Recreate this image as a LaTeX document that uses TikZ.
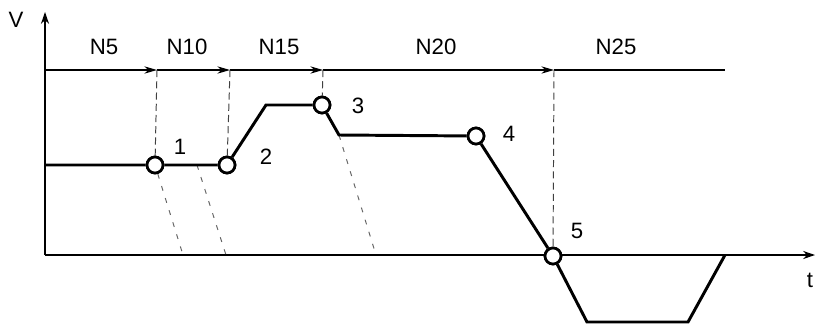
\documentclass[tikz,border=0pt]{standalone}
\usepackage{fontspec}
\setmainfont{Liberation Sans}
\usetikzlibrary{arrows.meta}

\begin{document}
\begin{tikzpicture}[x=0.025cm,y=-0.025cm,every node/.style={font=\fontsize{15.8}{18}\selectfont}]
\tikzset{
  profile/.style={line width=2.1pt,line join=miter},
  stop/.style={circle,draw,fill=white,line width=1.9pt,minimum size=0.4cm,inner sep=0pt},
  guide/.style={draw=black!75,dash pattern=on 5pt off 3pt,line width=0.7pt},
  slant/.style={draw=black!60,dash pattern=on 3.5pt off 5.5pt,line width=0.7pt},
  axisline/.style={line width=1pt,-{Stealth[length=8.5pt,width=5.8pt]}},
  blockarrow/.style={line width=0.8pt,-{Stealth[length=9pt,width=5.2pt]}}
}
\useasboundingbox (0,0) rectangle (815,325);
% axes
\coordinate (o) at (45,255);
\draw[axisline] (o) -- (45,12);
\draw[axisline] (o) -- (815,255);
\node (vlabel) at (16,20) {V};
\node (tlabel) at (810,280) {t};
% block timeline
\coordinate (b0) at (45,70);
\coordinate (a1) at (157,70);
\coordinate (a2) at (230,70);
\coordinate (a3) at (323,70);
\coordinate (a4) at (554,70);
\coordinate (b5) at (725,70);
\draw[blockarrow] (b0) -- (a1);
\draw[blockarrow] (a1) -- (a2);
\draw[blockarrow] (a2) -- (a3);
\draw[blockarrow] (a3) -- (a4);
\draw[line width=0.8pt] (a4) -- (b5);
\node (n5) at (104,47) {N5};
\node (n10) at (187,47) {N10};
\node (n15) at (279,47) {N15};
\node (n20) at (436,47) {N20};
\node (n25) at (616,47) {N25};
% profile corners
\coordinate (p0) at (45,165);
\coordinate (p2) at (266,105);
\coordinate (p3) at (339,135);
\coordinate (p5) at (587,322);
\coordinate (p6) at (688,322);
\coordinate (p7) at (725,255);
\coordinate (q1) at (197,165);
\coordinate (e1) at (183,255);
\coordinate (e2) at (226,255);
\coordinate (e3) at (376,255);
% stop points
\node[stop] (c1) at (155,165) {};
\node[stop] (c2) at (227,165) {};
\node[stop] (c3) at (322,105) {};
\node[stop] (c4) at (476,136) {};
\node[stop] (c5) at (553,256) {};
% dashed guides
\draw[guide] (a1) -- (c1);
\draw[guide] (a2) -- (c2);
\draw[guide] (a3) -- (c3);
\draw[guide] (a4) -- (c5);
\draw[slant] (c1) -- (e1);
\draw[slant] (q1) -- (e2);
\draw[slant] (p3) -- (e3);
% velocity profile
\draw[profile] (p0) -- (c1) -- (c2) -- (p2) -- (c3) -- (p3) -- (c4) -- (c5) -- (p5) -- (p6) -- (p7);
\foreach \i in {1,...,5} \node[stop] at (c\i) {};
% labels
\node (l1) at (180,147) {1};
\node (l2) at (266,157) {2};
\node (l3) at (358,106) {3};
\node (l4) at (509,134) {4};
\node (l5) at (577,231) {5};
\end{tikzpicture}
\end{document}
